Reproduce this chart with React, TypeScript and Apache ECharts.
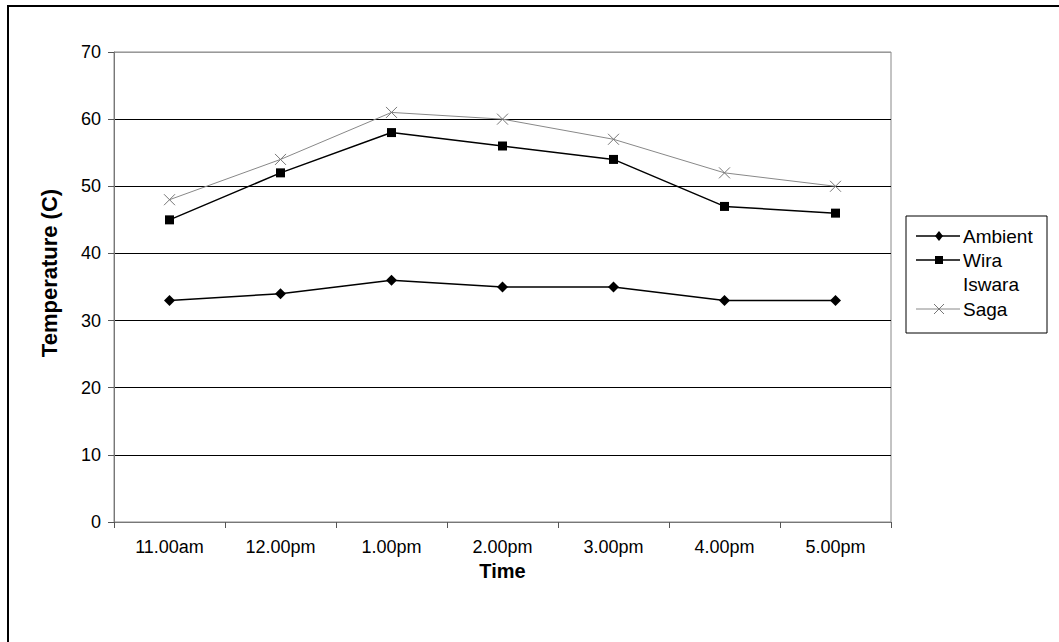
import React, { useEffect, useRef } from "react";
import * as echarts from "echarts";

const categories = ["11.00am", "12.00pm", "1.00pm", "2.00pm", "3.00pm", "4.00pm", "5.00pm"];
const ambient = [33, 34, 36, 35, 35, 33, 33];
const wiraIswara = [45, 52, 58, 56, 54, 47, 46];
const saga = [48, 54, 61, 60, 57, 52, 50];
const legendNames = ["Ambient", "Wira", "Iswara", "Saga"];

const FONT = "Liberation Sans, Arial, sans-serif";
const X_SYMBOL = "path://M0,0L10,10M0,10L10,0";

export default function App() {
  const ref = useRef<HTMLDivElement>(null);
  useEffect(() => {
    if (!ref.current) return;
    const chart = echarts.init(ref.current, null, { renderer: "svg" });
    const lx = 916;
    const lineEnd = 960;
    const mx = 939;
    const textX = 963;
    const rows = [236, 260, 284, 309];
    chart.setOption({
      animation: false,
      backgroundColor: "#fff",
      textStyle: { fontFamily: FONT },
      grid: {
        left: 114,
        top: 52,
        right: 168,
        bottom: 120,
        show: true,
        borderColor: "#888",
        borderWidth: 1,
        containLabel: false,
      },
      xAxis: {
        type: "category",
        data: categories,
        boundaryGap: true,
        name: "Time",
        nameLocation: "middle",
        nameGap: 33,
        nameTextStyle: { fontFamily: FONT, fontSize: 20, fontWeight: "bold", color: "#000" },
        axisLine: { show: true, lineStyle: { color: "#777", width: 1 } },
        axisTick: { show: true, length: 6, inside: false, lineStyle: { color: "#555" } },
        axisLabel: { fontFamily: FONT, fontSize: 18, color: "#000", margin: 16 },
        splitLine: { show: false },
      },
      yAxis: {
        type: "value",
        min: 0,
        max: 70,
        interval: 10,
        name: "Temperature (C)",
        nameLocation: "middle",
        nameGap: 54,
        nameTextStyle: { fontFamily: FONT, fontSize: 22, fontWeight: "bold", color: "#000", padding: [0, 0, 0, 28] },
        axisLine: { show: true, lineStyle: { color: "#777", width: 1 } },
        axisTick: { show: true, length: 6, inside: false, lineStyle: { color: "#555" } },
        axisLabel: { fontFamily: FONT, fontSize: 18, color: "#000", margin: 13 },
        splitLine: {
          show: true,
          lineStyle: {
            color: ["#777", "#000", "#000", "#000", "#000", "#000", "#000", "#999"],
            width: 1,
          },
        },
      },
      series: [
        {
          name: "Ambient",
          type: "line",
          data: ambient,
          symbol: "diamond",
          symbolSize: 11,
          lineStyle: { color: "#000", width: 1.5 },
          itemStyle: { color: "#000" },
        },
        {
          name: "Wira Iswara",
          type: "line",
          data: wiraIswara,
          symbol: "rect",
          symbolSize: 9,
          lineStyle: { color: "#000", width: 1.5 },
          itemStyle: { color: "#000" },
        },
        {
          name: "Saga",
          type: "line",
          data: saga,
          symbol: X_SYMBOL,
          symbolSize: 11,
          lineStyle: { color: "#888", width: 1 },
          itemStyle: { color: "#888", borderColor: "#777", borderWidth: 1 },
        },
      ],
      graphic: [
        {
          type: "rect",
          shape: { x: 8, y: 6, width: 1100, height: 700 },
          style: { fill: "none", stroke: "#000", lineWidth: 2 },
          silent: true,
        },
        {
          type: "rect",
          shape: { x: 906, y: 216, width: 141, height: 117 },
          style: { fill: "#fff", stroke: "#000", lineWidth: 1 },
        },
        { type: "line", shape: { x1: lx, y1: rows[0], x2: lineEnd, y2: rows[0] }, style: { stroke: "#000", lineWidth: 1.5 } },
        { type: "polygon", shape: { points: [[mx, rows[0] - 5], [mx + 4, rows[0]], [mx, rows[0] + 5], [mx - 4, rows[0]]] }, style: { fill: "#000" } },
        { type: "line", shape: { x1: lx, y1: rows[1], x2: lineEnd, y2: rows[1] }, style: { stroke: "#000", lineWidth: 1.5 } },
        { type: "rect", shape: { x: mx - 4, y: rows[1] - 4, width: 8, height: 8 }, style: { fill: "#000" } },
        { type: "line", shape: { x1: lx, y1: rows[3], x2: lineEnd, y2: rows[3] }, style: { stroke: "#888", lineWidth: 1 } },
        { type: "line", shape: { x1: mx - 5, y1: rows[3] - 5, x2: mx + 5, y2: rows[3] + 5 }, style: { stroke: "#777", lineWidth: 1 } },
        { type: "line", shape: { x1: mx - 5, y1: rows[3] + 5, x2: mx + 5, y2: rows[3] - 5 }, style: { stroke: "#777", lineWidth: 1 } },
        ...legendNames.map((n, i) => ({
          type: "text",
          x: textX,
          y: rows[i],
          style: { text: n, fontFamily: FONT, fontSize: 19, fill: "#000", verticalAlign: "middle", align: "left" },
        })),
      ],
    });
    return () => chart.dispose();
  }, []);
  return <div ref={ref} style={{ position: "fixed", left: 0, top: 0, width: 1059, height: 642 }} />;
}
